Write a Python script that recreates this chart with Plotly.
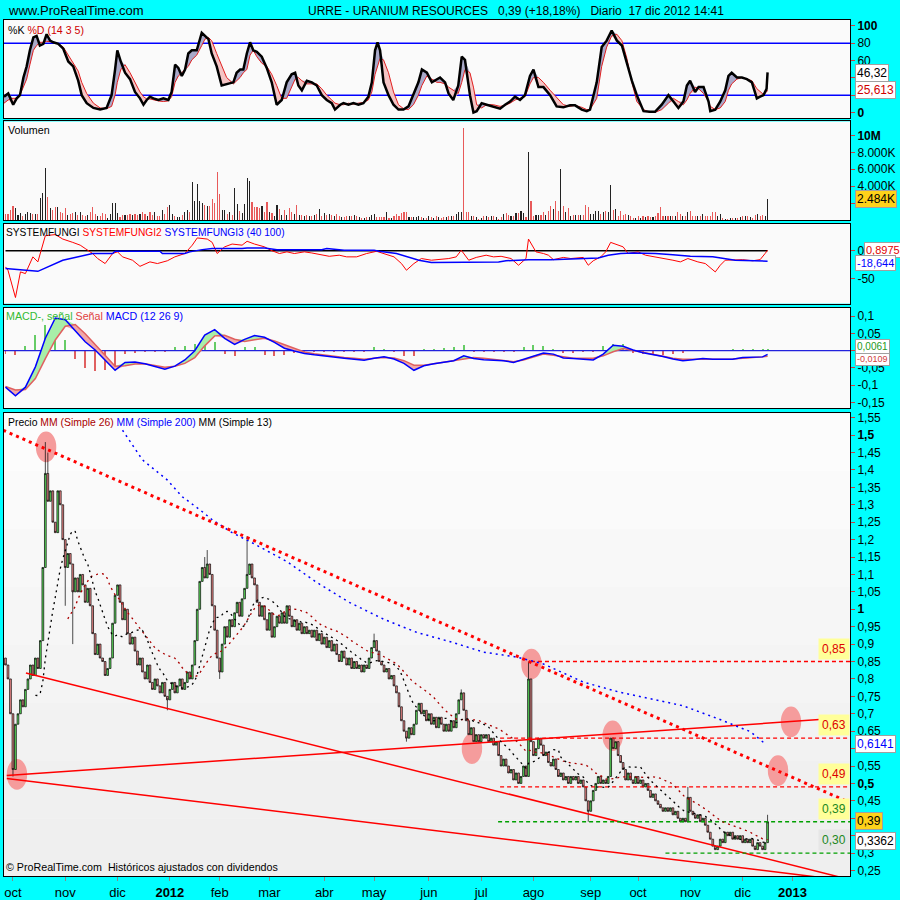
import numpy as np
import pandas as pd
import plotly.graph_objects as go

# ---------------- DATA ----------------
first_index = -3          # trading-day index of first candle (0 = 3 Oct 2011)
first_open = 0.86
closes = [
 0.84,0.80,0.70,0.54,0.67,0.70,0.74,0.72,0.77,0.80,
 0.84,0.81,0.86,0.83,0.91,1.12,1.39,1.31,1.34,1.25,
 1.22,1.34,1.30,1.20,1.12,1.16,1.13,1.05,1.09,1.05,
 1.10,1.07,1.02,1.06,1.01,0.93,0.87,0.90,0.86,0.85,
 0.81,0.83,0.86,0.96,1.04,1.07,1.02,0.97,1.00,0.93,
 0.90,0.92,0.88,0.84,0.86,0.82,0.80,0.84,0.79,0.77,
 0.80,0.78,0.76,0.79,0.75,0.74,0.77,0.79,0.76,0.78,
 0.80,0.77,0.79,0.82,0.80,0.84,0.91,1.00,1.08,1.12,
 1.09,1.13,1.10,1.01,0.94,0.86,0.82,0.90,0.95,0.92,
 0.97,0.95,0.99,1.02,0.98,1.03,1.06,1.10,1.13,1.09,
 1.07,1.02,0.98,1.01,0.97,0.94,0.99,0.92,0.95,0.98,
 0.96,0.99,0.96,1.01,0.98,0.95,0.97,0.94,0.96,0.93,
 0.95,0.93,0.94,0.92,0.94,0.91,0.93,0.90,0.92,0.89,
 0.91,0.88,0.90,0.87,0.85,0.88,0.86,0.84,0.86,0.83,
 0.85,0.83,0.84,0.82,0.84,0.83,0.86,0.89,0.91,0.88,
 0.85,0.84,0.82,0.83,0.80,0.81,0.78,0.76,0.72,0.68,
 0.65,0.63,0.66,0.64,0.67,0.71,0.73,0.70,0.71,0.68,
 0.70,0.67,0.69,0.66,0.69,0.67,0.65,0.67,0.65,0.68,
 0.66,0.70,0.74,0.76,0.71,0.68,0.64,0.66,0.62,0.64,
 0.62,0.64,0.63,0.64,0.62,0.63,0.61,0.62,0.58,0.55,
 0.57,0.55,0.53,0.54,0.51,0.53,0.50,0.52,0.55,0.52,
 0.80,0.62,0.58,0.60,0.63,0.61,0.58,0.59,0.56,0.55,
 0.57,0.54,0.52,0.53,0.51,0.52,0.50,0.52,0.51,0.52,
 0.50,0.51,0.49,0.45,0.42,0.45,0.48,0.50,0.52,0.50,
 0.51,0.50,0.52,0.63,0.60,0.62,0.58,0.56,0.54,0.51,
 0.53,0.51,0.50,0.52,0.50,0.51,0.49,0.50,0.48,0.46,
 0.47,0.45,0.44,0.43,0.42,0.43,0.42,0.43,0.41,0.42,
 0.40,0.39,0.40,0.39,0.46,0.42,0.41,0.40,0.41,0.39,
 0.40,0.38,0.36,0.34,0.32,0.31,0.32,0.34,0.33,0.36,
 0.35,0.36,0.34,0.35,0.34,0.35,0.33,0.34,0.33,0.34,
 0.32,0.31,0.33,0.32,0.31,0.33,0.39,
]
wick_high = {13: 1.48, 14: 1.45, 77: 1.15, 78: 1.17, 94: 1.21, 145: 0.93,
             180: 0.77, 207: 0.85, 271: 0.49, 303: 0.41}
wick_low = {0: 0.52, 21: 1.01, 24: 0.90, 62: 0.71, 83: 0.80, 158: 0.62, 231: 0.39}

volume_m = [
 0.71,0.71,1.22,1.69,1.41,0.59,0.78,0.47,0.71,0.98,
 0.82,0.71,0.71,0.71,2.59,3.18,6.2,2.7,1.41,1.22,
 1.53,1.53,0.94,0.82,1.41,0.59,0.71,0.82,0.94,0.59,
 0.94,0.59,0.47,0.59,0.94,1.53,0.71,0.47,0.47,0.82,
 0.71,0.24,0.71,2.0,2.0,0.82,0.35,0.59,0.59,0.59,
 0.71,0.59,0.71,0.59,0.71,0.94,0.71,0.47,0.94,0.59,
 0.94,0.47,0.47,1.18,0.71,1.53,1.76,0.71,0.47,0.35,
 0.35,0.59,0.94,1.18,0.94,4.5,2.24,4.24,2.24,2.0,
 1.76,1.65,1.65,2.47,2.0,5.69,3.06,1.18,1.18,0.71,
 0.94,0.59,3.76,1.88,1.06,0.82,1.88,5.02,4.63,2.12,
 1.53,1.53,1.41,1.65,0.94,2.12,0.94,0.82,0.47,1.76,
 1.29,0.59,1.18,0.59,1.41,0.94,0.71,1.76,0.59,0.59,
 0.47,0.59,0.47,0.47,0.59,0.71,1.29,0.47,0.82,0.59,
 0.71,0.59,0.47,0.71,0.47,0.35,0.35,0.47,0.47,0.47,
 0.59,0.47,0.35,0.24,0.24,0.35,0.35,0.59,0.71,0.35,
 0.35,0.35,0.35,0.94,0.24,0.24,0.47,0.71,0.47,0.82,
 0.94,0.94,0.35,0.35,0.35,0.35,0.47,0.35,0.24,0.24,
 0.47,0.35,0.24,0.47,0.35,0.24,0.35,0.35,
 0.43,0.43,0.43,0.71,0.9,0.9,10.9,0.9,0.9,0.43,
 0.43,0.31,0.12,0.27,0.43,0.43,0.31,0.43,0.43,0.31,
 0.12,0.35,0.67,0.82,0.59,0.43,0.51,0.82,0.82,1.06,
 0.82,0.31,8.04,2.27,0.51,0.59,0.59,0.59,0.9,0.59,
 1.1,1.61,1.29,2.27,1.1,6.0,1.61,0.98,1.37,0.51,
 0.59,0.59,0.59,0.59,0.59,1.76,1.49,0.71,0.71,1.1,
 1.1,0.71,0.98,1.1,0.9,4.1,1.22,1.29,0.51,1.1,
 0.59,0.71,0.59,0.43,0.2,0.2,0.43,0.2,0.51,0.31,
 0.43,0.31,0.31,0.51,0.82,1.49,0.43,0.43,0.43,0.43,
 0.51,0.51,0.9,0.71,0.43,0.51,0.98,1.06,0.43,0.43,
 0.43,0.51,0.71,0.43,0.43,0.51,0.98,0.98,0.43,0.71,
 0.2,0.12,0.12,0.2,0.2,0.27,0.27,0.31,0.51,0.51,
 0.43,0.31,0.2,0.59,0.71,0.51,0.59,0.43,2.48,
]

ma200_idx = [44, 52, 62, 68, 75, 80, 88, 96, 110, 122, 135, 149, 162, 176, 189,
             202, 213, 229, 243, 256, 269, 283, 296, 302]
ma200_val = [1.514, 1.429, 1.371, 1.323, 1.286, 1.257, 1.220, 1.191, 1.137, 1.077,
             1.020, 0.971, 0.934, 0.906, 0.877, 0.863, 0.843, 0.791, 0.763, 0.743,
             0.723, 0.686, 0.649, 0.6141]

stoch_idx = [
 -3.6,-1.9,0.1,1.5,2.8,4.2,5.5,6.8,8.2,9.5,
 10.8,12.2,13.5,14.9,16.2,18.2,20.2,22.2,24.2,26.2,
 27.6,29.6,32.3,35.0,37.6,39.6,41.0,41.9,43.3,45.0,
 47.0,49.0,51.0,52.4,53.7,55.0,56.4,58.4,60.4,62.4,
 63.7,65.1,66.4,67.8,69.1,70.4,71.8,73.8,75.8,77.1,
 78.5,79.8,81.8,83.8,85.8,88.5,89.8,91.2,92.5,93.9,
 95.2,96.5,97.9,99.9,101.9,103.9,105.9,107.9,109.9,111.9,
 113.3,114.6,116.0,118.0,120.0,122.0,124.0,126.0,128.0,129.3,
 131.4,132.7,134.7,136.7,138.7,140.7,142.7,144.1,145.4,146.4,
 147.4,148.8,150.8,152.8,154.8,156.8,158.8,160.8,162.8,164.2,
 166.2,168.2,170.2,171.5,173.5,174.9,
 176.8,178.8,180.2,181.5,183.5,184.9,186.2,188.2,190.2,
 192.9,195.6,197.6,199.6,201.6,203.6,205.6,207.6,209.0,211.0,
 213.0,215.7,218.3,221.0,223.7,225.7,228.4,230.4,231.7,234.4,
 236.4,238.4,240.4,242.5,244.5,246.5,248.5,250.5,253.2,255.8,
 257.8,260.5,263.2,265.2,267.2,269.2,270.6,271.9,273.9,275.3,
 277.3,279.3,280.0,282.0,284.0,286.0,287.3,288.6,290.7,292.7,
 294.7,296.7,298.7,300.0,301.4,302.6,303.0,
]
stoch_k = [
 18.2,21.9,8.9,16.3,20.0,40.4,53.3,71.9,86.7,88.5,
 77.4,79.3,90.4,83.0,81.1,79.3,73.7,58.9,53.3,36.7,
 20.0,10.7,5.2,3.3,5.2,20.0,49.6,71.9,58.9,45.9,
 38.5,23.7,16.3,8.9,14.4,18.2,16.3,14.4,16.3,14.4,
 23.7,55.2,51.5,42.2,49.6,68.2,71.9,71.9,92.2,88.5,
 84.8,68.2,53.3,31.1,33.0,34.8,45.9,49.6,49.6,68.2,
 81.1,71.9,70.0,64.5,51.5,34.8,8.9,14.4,34.8,44.1,
 45.9,31.1,25.6,36.7,34.8,31.1,20.0,14.4,10.7,3.3,
 8.9,10.7,8.9,10.7,8.9,10.7,18.2,34.8,71.9,81.1,
 71.9,34.8,20.0,8.9,3.3,3.3,7.0,20.0,34.8,49.6,
 45.9,34.8,38.5,40.4,34.8,21.9,
 14.4,31.1,64.5,60.7,20.0,0.0,1.5,10.7,8.9,
 7.0,4.4,8.9,12.6,18.2,14.4,20.0,42.2,49.6,29.3,
 29.3,20.0,7.0,5.9,8.2,8.2,3.3,1.5,3.3,34.8,
 75.6,83.0,94.8,83.0,77.4,57.0,36.7,20.0,1.5,0.7,
 0.7,8.9,20.0,12.6,5.2,12.6,31.1,36.7,23.7,29.3,
 29.3,12.6,1.5,3.3,12.6,25.6,42.2,45.9,40.4,40.4,
 38.5,34.8,16.3,18.2,20.0,27.4,46.32,
]
stoch_d = [
 10.7,14.4,16.3,16.3,20.0,29.3,38.5,55.2,71.9,77.4,
 81.1,81.1,82.2,81.9,81.1,79.3,75.6,66.3,57.0,47.8,
 34.8,21.9,10.7,5.2,4.4,7.0,20.0,34.8,49.6,55.2,
 45.9,34.8,23.7,18.2,15.6,15.6,14.4,13.3,12.6,13.3,
 18.2,34.8,42.2,45.9,49.6,53.3,60.7,66.3,77.4,84.8,
 86.7,83.0,68.2,53.3,40.4,33.0,36.7,40.4,45.9,49.6,
 66.3,71.9,64.5,57.0,53.3,44.1,31.1,16.3,16.3,29.3,
 38.5,40.4,36.7,33.0,33.0,33.0,27.4,20.0,14.4,10.7,
 8.9,8.9,10.7,9.6,10.7,11.5,14.4,23.7,44.1,53.3,
 62.6,60.7,45.9,23.7,8.9,4.4,3.3,8.9,20.0,31.1,
 42.2,38.5,34.8,34.8,33.0,29.3,
 25.6,21.9,34.8,49.6,45.9,29.3,8.9,5.2,8.9,
 8.9,7.0,8.2,10.7,14.4,16.3,18.2,33.0,40.4,40.4,
 34.8,25.6,17.0,8.9,7.0,8.2,5.9,3.3,3.3,16.3,
 53.3,75.6,88.5,90.4,83.0,62.6,34.8,12.6,3.3,0.0,
 0.0,3.3,10.7,16.3,12.6,8.9,14.4,21.9,29.3,27.4,
 21.9,12.6,7.0,3.3,5.2,12.6,25.6,33.0,38.5,40.4,
 38.5,36.7,27.4,23.7,20.7,23.7,25.613,
]

sf_idx = [-3,-2,1,3,5,8,10,11,13,17, 20,24,27,29,32,34,37,40,42,44,
          48,51,55,58,62,65,69,72,74,78, 80,82,85,88,92,94,97,101,104,107,
          110,113,117,120,124,127,131,134,138,142, 146,149,153,156,158,161,164,168,171,175,
          178,180,183,186,190,193,196,200,203,206, 207,210,213,215,217,221,224,229,231,233,
          236,238,240,243,245,247,251,254,258,261, 265,268,271,275,278,282,284,286,290,293,
          297,300,302,303]
sf_red = [-29,-35,-84,-38,-41,-11,-20,-5,27,29, 21,15,10,4,-5,-14,-23,-5,-2,-11,
          -17,-28,-20,-23,-18,-11,-5,10,23,21, 15,-5,7,12,10,17,12,7,0,-5,
          -2,-5,-2,-4,-7,-10,-8,-11,-11,-5, -1,-5,-11,-23,-35,-23,-14,-17,-16,-14,
          -11,1,-17,-12,-8,-11,-10,-14,-26,-14, 21,-2,-5,-8,-16,-12,-14,-12,-26,-18,
          -11,-2,15,11,7,-5,-2,-8,-11,-14, -17,-20,-14,-20,-23,-38,-26,-17,-16,-16,
          -18,-16,-5,0.8975]
sfb_idx = [-3,10,20,29,32,40,41,59,60,69, 71,76,80,92,94,101,106,110,124,126,
           133,145,147,154,159,163,168,179,184,195, 198,207,216,225,235,239,244,249,253,258,
           265,272,281,285,290,303]
sf_blue = [-32,-37,-17,-8,-5,-5,-1,-1,-5,-5, -2,2,4,4,5,5,2,2,2,4,
           1,1,-1,-5,-11,-17,-21,-21,-20,-20, -18,-16,-16,-15,-13,-8,-5,-4,-4,-5,
           -7,-10,-11,-14,-17,-18.644]

macd_idx = list(range(-3, 302, 4)) + [303]
macd_line = [
 -0.106,-0.131,-0.106,-0.047,0.036,0.095,0.090,0.059,0.026,0.002,
 -0.029,-0.057,-0.034,-0.033,-0.038,-0.047,-0.054,-0.045,-0.027,0.000,
 0.045,0.061,0.036,0.018,0.033,0.044,0.039,0.024,0.007,-0.001,
 -0.008,-0.012,-0.016,-0.020,-0.022,-0.025,-0.028,-0.022,-0.018,-0.024,
 -0.037,-0.057,-0.044,-0.038,-0.033,-0.029,-0.015,-0.023,-0.026,-0.027,
 -0.029,-0.034,-0.025,-0.014,-0.007,-0.010,-0.021,-0.023,-0.026,-0.027,
 -0.010,0.016,0.013,0.002,-0.006,-0.011,-0.017,-0.024,-0.029,-0.026,
 -0.023,-0.025,-0.026,-0.025,-0.020,-0.020,-0.018,-0.0109,
]
macd_signal = [
 -0.104,-0.114,-0.113,-0.081,-0.023,0.031,0.071,0.076,0.049,0.019,
 -0.013,-0.045,-0.044,-0.039,-0.038,-0.043,-0.048,-0.045,-0.037,-0.020,
 0.014,0.043,0.045,0.033,0.027,0.032,0.036,0.028,0.017,0.005,
 -0.004,-0.009,-0.013,-0.016,-0.020,-0.022,-0.025,-0.022,-0.020,-0.021,
 -0.029,-0.042,-0.042,-0.038,-0.034,-0.029,-0.024,-0.020,-0.022,-0.025,
 -0.029,-0.032,-0.027,-0.018,-0.010,-0.013,-0.018,-0.022,-0.022,-0.022,
 -0.015,-0.003,0.006,0.001,-0.004,-0.010,-0.016,-0.022,-0.025,-0.025,
 -0.025,-0.025,-0.025,-0.024,-0.022,-0.021,-0.018,-0.016,
]
macd_hist = [
 -0.010,-0.013,0.015,0.045,0.075,0.070,0.030,-0.025,-0.050,-0.058,
 -0.055,-0.045,-0.010,-0.006,-0.005,-0.005,-0.004,0.010,0.015,0.020,
 0.038,0.025,-0.010,-0.016,0.010,0.010,-0.012,-0.015,-0.013,-0.006,
 -0.006,-0.005,-0.004,-0.003,-0.003,-0.003,-0.003,0.010,0.005,-0.004,
 -0.015,-0.015,0.004,0.005,0.008,0.010,0.016,-0.004,-0.004,-0.004,
 -0.003,-0.003,0.012,0.016,0.014,0.006,-0.006,-0.006,-0.005,-0.004,
 0.014,0.020,0.020,-0.008,-0.010,-0.012,-0.012,-0.010,-0.006,0.003,
 0.003,0.003,0.003,0.004,0.004,0.004,0.004,0.0061,
]

month_idx = [0, 21, 42, 63, 83, 103, 125, 145, 167, 188, 209, 232, 251, 272, 293, 313]
month_lbl = ["oct", "nov", "dic", "<b>2012</b>", "feb", "mar", "abr", "may", "jun",
             "jul", "ago", "sep", "oct", "nov", "dic", "<b>2013</b>"]

# tick labels hidden behind value boxes in the reference are left blank
price_ticks = [0.25,0.3,0.35,0.4,0.45,0.5,0.55,0.6,0.65,0.7,0.75,0.8,0.85,0.9,0.95,
               1.0,1.05,1.1,1.15,1.2,1.25,1.3,1.35,1.4,1.45,1.5,1.55]
price_tick_lbl = ["0,25","0,3","","","0,45","<b>0,5</b>","0,55","","0,65","0,7",
                  "0,75","0,8","0,85","0,9","0,95","<b>1</b>","1,05","1,1","1,15","1,2",
                  "1,25","1,3","1,35","1,4","1,45","<b>1,5</b>","1,55"]
stoch_ticks = [0, 20, 40, 60, 80, 100]
stoch_tick_lbl = ["<b>0</b>", "", "", "60", "80", "<b>100</b>"]
vol_ticks = [2, 4, 6, 8, 10]
vol_tick_lbl = ["", "4.000K", "6.000K", "8.000K", "<b>10M</b>"]
sf_ticks = [0, -50]
sf_tick_lbl = ["0", "-50"]
macd_ticks = [0.1, 0.05, 0, -0.05, -0.1, -0.15]
macd_tick_lbl = ["0,1", "0,05", "", "-0,05", "-0,1", "-0,15"]

# trend lines (index, price) endpoints
resist_x, resist_y = [-3.9, 334.1], [1.514, 0.451]
rise_x, rise_y = [-2.5, 335.3], [0.523, 0.689]
supp1_x, supp1_y = [5.2, 336.0], [0.817, 0.224]
supp2_x, supp2_y = [-2.5, 336.0], [0.514, 0.220]
level_val = [0.85, 0.63, 0.49, 0.39, 0.30]
level_start = [208, 195.6, 195.6, 194.8, 262]
level_lbl = ["0,85", "0,63", "0,49", "0,39", "0,30"]
level_col = ["#FF0000", "#FF0000", "#FF0000", "#00A000", "#00A000"]
circle_x = [1.6, 13.3, 208.2, 184.3, 240.8, 307.2, 312.4]
circle_y = [0.526, 1.466, 0.843, 0.60, 0.637, 0.537, 0.677]

# ---------------- DERIVED ----------------
n = len(closes)
idx = np.arange(first_index, first_index + n)
cl = np.array(closes)
op = np.concatenate([[first_open], cl[:-1]])
hi = np.maximum(op, cl)
lo = np.minimum(op, cl)
for k, v in wick_high.items():
    hi[k - first_index] = max(hi[k - first_index], v)
for k, v in wick_low.items():
    lo[k - first_index] = min(lo[k - first_index], v)
ma13 = pd.Series(cl).rolling(13).mean()
ma26 = pd.Series(cl).rolling(26).mean()
vol_col = ["#222222" if c >= o else "#E85A5A" for o, c in zip(op, cl)]

XR = [-3.6, 336.1]
XD = [4 / 900, 850 / 900]
def dom(top, bot):
    return [1 - bot / 900, 1 - top / 900]

FONT = "Liberation Sans, Arial, sans-serif"
NARROW = "Liberation Sans Narrow, Arial Narrow, Liberation Sans, Arial, sans-serif"

fig = go.Figure()

def band(x, a, b, col_up, col_dn, xa, ya):
    a = np.array(a, dtype=float); b = np.array(b, dtype=float)
    up = np.maximum(a, b); dn = np.minimum(a, b)
    for top, col in ((up, col_up), (dn, col_dn)):
        fig.add_trace(go.Scatter(x=x, y=b, mode="lines", line=dict(width=0),
                                 xaxis=xa, yaxis=ya, hoverinfo="skip"))
        fig.add_trace(go.Scatter(x=x, y=top, mode="lines", line=dict(width=0),
                                 fill="tonexty", fillcolor=col,
                                 xaxis=xa, yaxis=ya, hoverinfo="skip"))

# ---- Stochastic panel (x2/y2)
for lvl in (80, 20):
    fig.add_trace(go.Scatter(x=XR, y=[lvl, lvl], mode="lines",
                             line=dict(color="#0000FF", width=1.5), xaxis="x2", yaxis="y2"))
band(stoch_idx, stoch_k, stoch_d, "#A9A9C9", "#F4C4C4", "x2", "y2")
fig.add_trace(go.Scatter(x=stoch_idx, y=stoch_d, mode="lines",
                         line=dict(color="#E02020", width=1), xaxis="x2", yaxis="y2"))
fig.add_trace(go.Scatter(x=stoch_idx, y=stoch_k, mode="lines",
                         line=dict(color="#000000", width=2.5), xaxis="x2", yaxis="y2"))

# ---- Volume (x3/y3)
fig.add_trace(go.Bar(x=idx, y=volume_m, marker=dict(color=vol_col, line=dict(width=0)),
                     width=0.45, xaxis="x3", yaxis="y3"))

# ---- SYSTEMFUNGI (x4/y4)
fig.add_trace(go.Scatter(x=[first_index, idx[-1]], y=[0, 0], mode="lines",
                         line=dict(color="#000000", width=1.5), xaxis="x4", yaxis="y4"))
fig.add_trace(go.Scatter(x=sf_idx, y=sf_red, mode="lines",
                         line=dict(color="#FF0000", width=1), xaxis="x4", yaxis="y4"))
fig.add_trace(go.Scatter(x=sfb_idx, y=sf_blue, mode="lines",
                         line=dict(color="#0000FF", width=1.5), xaxis="x4", yaxis="y4"))

# ---- MACD (x5/y5)
hist_col = ["#66CC66" if v >= 0 else "#E06060" for v in macd_hist]
fig.add_trace(go.Bar(x=macd_idx, y=macd_hist, marker=dict(color=hist_col, line=dict(width=0)),
                     width=0.8, xaxis="x5", yaxis="y5"))
fig.add_trace(go.Scatter(x=XR, y=[0, 0], mode="lines",
                         line=dict(color="#2222DD", width=1.2), xaxis="x5", yaxis="y5"))
band(macd_idx, macd_line, macd_signal, "#A8EEA8", "#F0A8A8", "x5", "y5")
fig.add_trace(go.Scatter(x=macd_idx, y=macd_signal, mode="lines",
                         line=dict(color="#E06060", width=1.5), xaxis="x5", yaxis="y5"))
fig.add_trace(go.Scatter(x=macd_idx, y=macd_line, mode="lines",
                         line=dict(color="#0000FF", width=1.5), xaxis="x5", yaxis="y5"))

# ---- Price (x/y)
for xs, ys in ((rise_x, rise_y), (supp1_x, supp1_y), (supp2_x, supp2_y)):
    fig.add_trace(go.Scatter(x=xs, y=ys, mode="lines",
                             line=dict(color="#FF0000", width=1.5), xaxis="x", yaxis="y"))
fig.add_trace(go.Candlestick(
    x=idx, open=op, high=hi, low=lo, close=cl, whiskerwidth=0,
    increasing=dict(fillcolor="#5EE05E", line=dict(color="#000000", width=0.7)),
    decreasing=dict(fillcolor="#F28C8C", line=dict(color="#000000", width=0.7)),
    xaxis="x", yaxis="y"))
for v, s, c in zip(level_val, level_start, level_col):
    fig.add_trace(go.Scatter(x=[s, XR[1]], y=[v, v], mode="lines",
                             line=dict(color=c, width=1.4, dash="4px,3px"), xaxis="x", yaxis="y"))
fig.add_trace(go.Scatter(x=idx, y=ma26, mode="lines",
                         line=dict(color="#AA0000", width=1.3, dash="2px,4px"), xaxis="x", yaxis="y"))
fig.add_trace(go.Scatter(x=idx, y=ma13, mode="lines",
                         line=dict(color="#000000", width=1.3, dash="2px,4px"), xaxis="x", yaxis="y"))
fig.add_trace(go.Scatter(x=ma200_idx, y=ma200_val, mode="lines",
                         line=dict(color="#0000FF", width=1.5, dash="2px,4px"), xaxis="x", yaxis="y"))
fig.add_trace(go.Scatter(x=resist_x, y=resist_y, mode="lines",
                         line=dict(color="#FF0000", width=3, dash="3px,4px"), xaxis="x", yaxis="y"))

# ---------------- SHAPES ----------------
shapes = []
# soft vertical gradient of the price panel background
grad = ["#FCFCFC", "#FAFAFA", "#F8F8F8", "#F6F6F6", "#F4F4F4", "#F2F2F2", "#F0F0F0", "#EFEFEF"]
for k, g in enumerate(grad):
    shapes.append(dict(type="rect", xref="x domain", yref="y domain", layer="below",
                       x0=0, x1=1, y0=1 - (k + 1) / len(grad), y1=1 - k / len(grad),
                       fillcolor=g, line=dict(width=0)))
for cx, cy in zip(circle_x, circle_y):
    shapes.append(dict(type="circle", xref="x", yref="y", layer="below",
                       x0=cx - 4.1, x1=cx + 4.1, y0=cy - 0.044, y1=cy + 0.044,
                       fillcolor="#F59C9C", line=dict(width=0)))

# ---------------- ANNOTATIONS ----------------
ann = []
def txt(px, py, text, size=11, color="black", family=FONT, xanchor="left"):
    ann.append(dict(x=px / 900, y=1 - py / 900, xref="paper", yref="paper", text=text,
                    showarrow=False, xanchor=xanchor, yanchor="middle",
                    font=dict(size=size, color=color, family=family)))

txt(6, 9, "www.ProRealTime.com", 13, family=NARROW)
txt(516, 9, "URRE - URANIUM RESOURCES&nbsp;&nbsp;&nbsp;0,39 (+18,18%)&nbsp;&nbsp;&nbsp;Diario&nbsp;&nbsp;17 dic 2012 14:41",
    12, family=NARROW, xanchor="center")
txt(6, 28, '%K <span style="color:#D00000">%D (14 3 5)</span>', 10.6)
txt(6, 129, "Volumen", 10.7)
txt(4, 232, 'SYSTEMFUNGI <span style="color:#FF0000">SYSTEMFUNGI2</span> '
            '<span style="color:#0000FF">SYSTEMFUNGI3 (40 100)</span>', 10.2, family=NARROW)
txt(4, 315, '<span style="color:#33BB33">MACD-, señal</span> <span style="color:#E04040">Señal</span> '
            '<span style="color:#0000FF">MACD (12 26 9)</span>', 10.7, family=NARROW)
txt(6, 422, 'Precio <span style="color:#AA0000">MM (Simple 26)</span> '
            '<span style="color:#0000FF">MM (Simple 200)</span> MM (Simple 13)', 10.4)
txt(4, 869, "© ProRealTime.com&nbsp; Históricos ajustados con dividendos", 10.7)

def valbox(yref, yval, text, color, bg="#FFFFFF", yshift=0, x=855, size=11):
    ann.append(dict(x=x / 900, y=yval, xref="paper", yref=yref, text=text, showarrow=False,
                    xanchor="left", yanchor="middle", yshift=yshift,
                    font=dict(size=size, color=color, family=FONT),
                    bgcolor=bg, bordercolor="#A0A0A0", borderwidth=1, borderpad=1))

valbox("y2", 46.32, "46,32", "#000000", size=12, yshift=-1)
valbox("y2", 25.613, "25,613", "#D00000", size=12)
valbox("y3", 2.484, "2.484K", "#000000", bg="#FFD21A", size=12)
valbox("y4", 0.8975, "0,8975", "#E00000", x=864)
valbox("y4", -18.644, "-18,644", "#0000FF", yshift=-2)
valbox("y5", -0.0109, "-0,0109", "#D04040", yshift=-5, size=9)
valbox("y5", 0.0061, "0,0061", "#229922", yshift=2, size=10)
valbox("y", 0.6141, "0,6141", "#0000FF", size=12)
valbox("y", 0.39, "0,39", "#000000", bg="#FFD21A", yshift=1, size=12)
valbox("y", 0.3362, "0,3362", "#000000", yshift=-1, size=12)

for v, l, c in zip(level_val, level_lbl, level_col):
    ann.append(dict(x=834 / 900, y=v, xref="paper", yref="y", text=l, showarrow=False,
                    xanchor="center", yanchor="bottom", yshift=2,
                    font=dict(size=12, color=("#DD0000" if c == "#FF0000" else "#228822"), family=FONT),
                    bgcolor=("#FFFF99" if l != "0,30" else "#E6E6E6"), borderpad=3))

# ---------------- AXES ----------------
def xax(anchor, show):
    d = dict(domain=XD, anchor=anchor, showgrid=False, zeroline=False, showline=True,
             mirror=True, linecolor="#000000", linewidth=1)
    if show:
        d.update(range=XR, tickmode="array", tickvals=month_idx, ticktext=month_lbl,
                 ticks="outside", ticklen=4, tickcolor="#888888",
                 tickfont=dict(size=13, color="black", family=FONT),
                 rangeslider=dict(visible=False))
    else:
        d.update(matches="x", showticklabels=False, ticks="")
    return d

def yax(anchor, domain, rng, tv, tt):
    return dict(domain=domain, anchor=anchor, range=rng, side="right", showgrid=False,
                zeroline=False, showline=True, mirror=True, linecolor="#000000", linewidth=1,
                tickmode="array", tickvals=tv, ticktext=tt, ticks="outside", ticklen=4,
                tickcolor="#D04040", tickfont=dict(size=12, color="black", family=FONT))

fig.update_layout(
    width=900, height=900, margin=dict(l=0, r=0, t=0, b=0),
    paper_bgcolor="#00FFFF", plot_bgcolor="#FAFAFA", showlegend=False,
    hovermode=False, bargap=0, boxgap=0.0,
    xaxis=xax("y", True), xaxis2=xax("y2", False), xaxis3=xax("y3", False),
    xaxis4=xax("y4", False), xaxis5=xax("y5", False),
    yaxis=yax("x", dom(413, 878), [0.234, 1.563], price_ticks, price_tick_lbl),
    yaxis2=yax("x2", dom(18, 117), [-7, 107], stoch_ticks, stoch_tick_lbl),
    yaxis3=yax("x3", dom(120, 219), [0, 11.65], vol_ticks, vol_tick_lbl),
    yaxis4=yax("x4", dom(223, 303), [-95, 48], sf_ticks, sf_tick_lbl),
    yaxis5=yax("x5", dom(307, 408), [-0.167, 0.125], macd_ticks, macd_tick_lbl),
    shapes=shapes, annotations=ann,
)

fig.write_html("out.html", include_plotlyjs=True, full_html=True,
               config={"displayModeBar": False, "staticPlot": True},
               post_script="document.body.style.margin='0';")
